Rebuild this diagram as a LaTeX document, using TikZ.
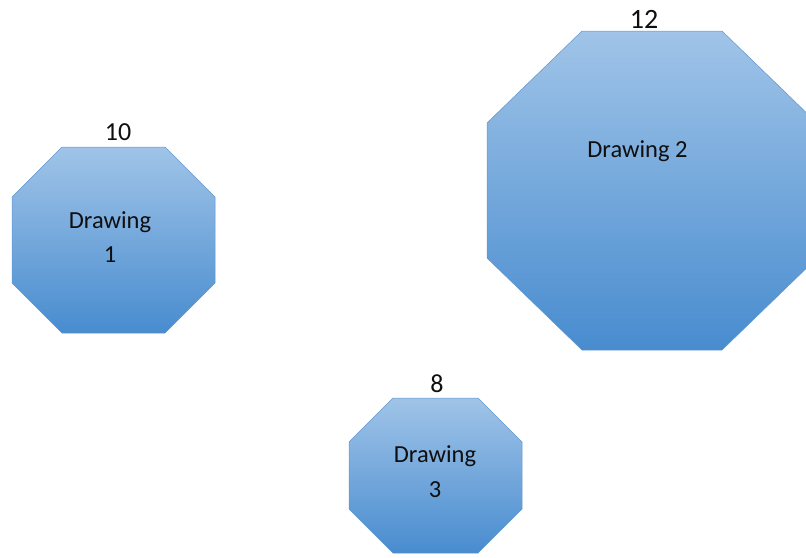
\documentclass[tikz,border=0pt]{standalone}
\usepackage{fontspec}
\setmainfont{Carlito}
\usepackage{xcolor}
\usepackage{tikz}
\definecolor{octtop}{RGB}{160,196,232}
\definecolor{octbot}{RGB}{72,140,207}
\definecolor{octedge}{RGB}{96,150,206}
\definecolor{inktext}{RGB}{15,15,15}

\begin{document}
\begin{tikzpicture}[
  x=1pt, y=-1pt,
  octa/.style={top color=octtop, bottom color=octbot, draw=octedge, line width=0.5pt, line join=miter},
  inner/.style={font=\fontsize{24.5}{34}\selectfont, text=inktext, align=center, anchor=base, inner sep=0pt},
  size/.style={font=\fontsize{26}{30}\selectfont, text=inktext, anchor=base, inner sep=0pt}
]
  \useasboundingbox (0,0) rectangle (806,557);
  \clip (0,0) rectangle (806,557);

  % Drawing 1
  \path[octa] (62,147) -- (165,147) -- (215,197) -- (215,283)
    -- (165,333) -- (62,333) -- (12,283) -- (12,197) -- cycle;
  \node[size] (top1) at (118,140) {10};
  \node[inner] (d1a) at (110,228) {Drawing};
  \node[inner] (d1b) at (110,262) {1};

  % Drawing 2
  \path[octa] (582,31) -- (722,31) -- (817,123) -- (817,258)
    -- (722,350) -- (582,350) -- (487,258) -- (487,123) -- cycle;
  \node[size, font=\fontsize{28}{32}\selectfont] (top2) at (644,28) {12};
  \node[inner] (d2) at (637.5,157) {Drawing 2};

  % Drawing 3
  \path[octa] (393,398) -- (478,398) -- (522,442) -- (522,509)
    -- (478,553) -- (393,553) -- (349,509) -- (349,442) -- cycle;
  \node[size] (top3) at (437,392) {8};
  \node[inner] (d3a) at (435,462) {Drawing};
  \node[inner] (d3b) at (435,497) {3};
\end{tikzpicture}
\end{document}
